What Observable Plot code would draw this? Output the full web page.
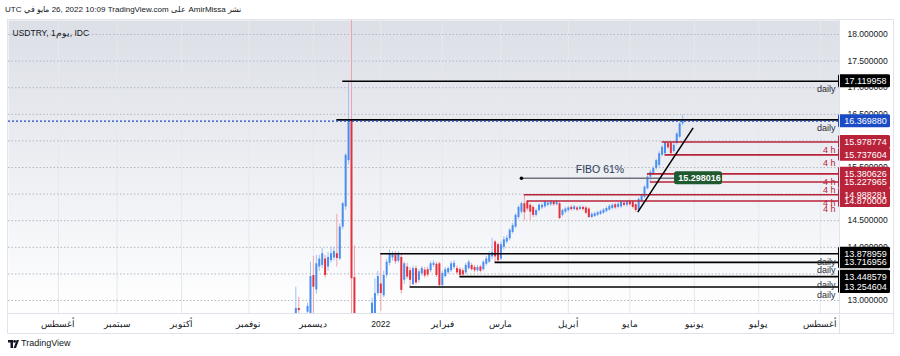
<!DOCTYPE html>
<html><head><meta charset="utf-8">
<script src="https://cdn.jsdelivr.net/npm/d3@7"></script>
<script src="https://cdn.jsdelivr.net/npm/@observablehq/plot@0.6"></script>
<style>
html,body{margin:0;padding:0;background:#fff;width:900px;height:356px;overflow:hidden;font-family:"Liberation Sans",Arial,sans-serif;}
#wrap{position:relative;width:900px;height:356px;}
#hdr{position:absolute;left:5px;top:4px;font-size:8px;line-height:12px;color:#131722;white-space:nowrap;}
#hdr span{display:inline-block;margin-right:2.4px;unicode-bidi:isolate;}
#chart{position:absolute;left:0;top:19px;}
.ln{position:absolute;background:#e0e3eb;pointer-events:none;}
#outer{position:absolute;left:7px;top:19px;width:887px;height:315px;border:1px solid #e0e3eb;box-sizing:border-box;pointer-events:none;}
#ftr{position:absolute;left:8px;top:338px;font-size:9px;line-height:11px;color:#131722;display:flex;align-items:center;gap:2px;}
</style></head><body>
<div id="wrap">
  <div id="hdr"></div>
  <div id="chart"></div>
  <div id="outer"></div>
  <div class="ln" style="left:839px;top:19px;width:1px;height:315px"></div>
  <div class="ln" style="left:7px;top:313px;width:887px;height:1px"></div>
  <div id="ftr"><svg width="11" height="8" viewBox="0 0 11 8"><path d="M0 0h5v8H2.5V2.6H0z" fill="#131722"/><circle cx="6.6" cy="1.4" r="1.4" fill="#131722"/><path d="M8.6 0H11L8 8H5.6z" fill="#131722"/></svg><span>TradingView</span></div>
</div>
<script>
// ---- header text tokens (visual order) ----
const headerTokens = ["UTC","في","مايو","26,","2022","10:09","TradingView.com","على","AmirMissa","نشر"];
const chartTitle = "USDTRY, 1يوم, IDC";

// ---- x axis (trading-day index, 0 = 20 Dec 2021) ----
const monthTickIdx = [-100, -80, -58, -35, -13, 10, 31, 51, 74, 95, 117, 139, 160];
const monthLabels = ["أغسطس","سبتمبر","أكتوبر","نوفمبر","ديسمبر","2022","فبراير","مارس","أبريل","مايو","يونيو","يوليو","أغسطس"];

// ---- y axis: grid levels and the tick labels left visible by the price-scale boxes ----
const yTicks = [13, 13.5, 14, 14.5, 15, 15.5, 16, 16.5, 17, 17.5, 18];
const yLabelTicks = [13, 14, 14.5, 15.5, 16.5, 17, 17.5, 18];

// ---- daily candles ----
const barIndex = [-19,-18,-15,-14,-13,-12,-11,-10,-9,-8,-7,-6,-5,-4,-3,-2,-1,0,1,7,8,9,10,11,12,13,14,15,16,17,18,19,20,21,22,23,24,25,26,27,28,29,30,31,32,33,34,35,36,37,38,39,40,41,42,43,44,45,46,47,48,49,50,51,52,53,54,55,56,57,58,59,60,61,62,63,64,65,66,67,68,69,70,71,72,73,74,75,76,77,78,79,80,81,82,83,84,85,86,87,88,89,90,91,92,93,94,95,96,97,98,99,100,101,102,103,104,105,106,107,108,109,110,111,112,113];
const openVals = [12.30,12.85,12.78,12.60,13.47,13.20,13.63,13.66,13.78,13.63,13.75,13.80,13.88,13.78,14.38,14.76,15.63,16.40,13.43,12.60,12.70,13.13,13.31,13.09,13.47,13.70,13.80,13.85,13.74,13.81,13.38,13.63,13.56,13.30,13.60,13.38,13.50,13.57,13.58,13.56,13.66,13.68,13.69,13.28,13.45,13.52,13.56,13.62,13.60,13.58,13.56,13.52,13.60,13.66,13.62,13.56,13.63,13.58,13.68,13.72,13.82,14.10,14.05,13.78,14.00,14.10,14.16,14.28,14.38,14.56,14.66,14.82,14.86,14.79,14.75,14.60,14.69,14.74,14.76,14.79,14.80,14.85,14.80,14.82,14.60,14.66,14.69,14.75,14.71,14.74,14.71,14.75,14.74,14.72,14.56,14.58,14.60,14.62,14.64,14.67,14.70,14.73,14.80,14.75,14.76,14.83,14.79,14.86,14.85,14.80,14.70,14.86,14.94,15.10,15.32,15.39,15.48,15.54,15.73,15.76,15.95,15.96,15.80,15.95,16.07,16.32];
const highVals = [13.25,13.06,12.95,13.72,13.83,13.85,13.85,13.98,13.85,13.90,14.00,14.00,14.62,14.44,14.85,15.76,17.12,18.36,14.03,13.05,13.41,13.55,13.88,13.55,13.78,13.95,13.92,13.92,13.92,13.87,13.72,13.70,13.62,13.65,13.65,13.58,13.64,13.62,13.63,13.73,13.75,13.72,13.72,13.55,13.62,13.63,13.73,13.75,13.65,13.62,13.60,13.70,13.76,13.70,13.66,13.66,13.66,13.75,13.83,13.92,14.17,14.13,14.08,14.10,14.20,14.22,14.35,14.45,14.63,14.78,14.85,14.988,14.87,14.82,14.78,14.72,14.82,14.82,14.87,14.86,14.88,14.87,14.88,14.85,14.72,14.75,14.77,14.78,14.79,14.77,14.78,14.78,14.77,14.75,14.65,14.66,14.68,14.70,14.73,14.76,14.80,14.82,14.83,14.84,14.88,14.87,14.88,14.89,14.88,14.83,14.93,15.00,15.16,15.38,15.45,15.52,15.66,15.80,15.92,15.98,15.97,15.98,15.96,16.16,16.35,16.48];
const lowVals = [12.20,12.45,12.60,12.55,12.70,13.12,13.55,13.60,13.42,13.55,13.70,13.75,13.63,13.75,14.33,14.70,15.55,12.50,11.60,12.50,12.60,13.08,12.80,13.05,13.42,13.65,13.74,13.68,13.70,13.12,13.30,13.40,13.255,13.28,13.29,13.33,13.46,13.42,13.44,13.52,13.62,13.43,13.26,13.26,13.42,13.49,13.53,13.58,13.49,13.449,13.46,13.49,13.57,13.55,13.52,13.53,13.52,13.55,13.65,13.70,13.77,13.717,13.72,13.75,13.95,14.06,14.12,14.25,14.35,14.52,14.62,14.50,14.68,14.50,14.56,14.57,14.66,14.71,14.73,14.76,14.77,14.77,14.78,14.52,14.57,14.63,14.66,14.68,14.69,14.67,14.69,14.68,14.61,14.54,14.54,14.56,14.58,14.60,14.62,14.65,14.68,14.70,14.71,14.72,14.73,14.76,14.76,14.77,14.72,14.66,14.67,14.83,14.92,15.08,15.228,15.35,15.45,15.50,15.70,15.73,15.84,15.738,15.77,15.92,16.04,16.28];
const closeVals = [12.85,12.81,12.89,13.45,13.25,13.69,13.78,13.88,13.47,13.81,13.88,13.92,13.79,14.38,14.82,15.73,16.40,13.41,12.40,12.95,13.13,13.45,13.13,13.47,13.72,13.88,13.86,13.73,13.86,13.19,13.69,13.44,13.38,13.60,13.33,13.54,13.60,13.46,13.48,13.69,13.70,13.47,13.28,13.51,13.58,13.60,13.69,13.70,13.52,13.47,13.48,13.66,13.72,13.58,13.56,13.62,13.55,13.72,13.78,13.88,13.90,13.82,13.75,14.05,14.14,14.17,14.32,14.41,14.60,14.75,14.82,14.65,14.72,14.66,14.60,14.69,14.79,14.79,14.85,14.83,14.85,14.80,14.85,14.54,14.69,14.72,14.74,14.71,14.76,14.70,14.75,14.71,14.64,14.56,14.62,14.63,14.65,14.67,14.70,14.73,14.77,14.79,14.74,14.81,14.85,14.79,14.85,14.80,14.75,14.69,14.90,14.97,15.13,15.32,15.41,15.48,15.63,15.76,15.88,15.97,15.87,15.76,15.92,16.13,16.32,16.36988];

// ---- drawn horizontal levels ----
const levelValues = [17.119958, 16.395, 13.878959, 13.716956, 13.448579, 13.254604, 15.978774, 15.737604, 15.380626, 15.227965, 14.988281, 14.87];
const levelStart  = [-3, -5, 10, 49, 37, 20, 106, 107, 101, 102, 59, 60];
const levelFrame  = ["daily","daily","daily","daily","daily","daily","4 h","4 h","4 h","4 h","4 h","4 h"];

// ---- price-scale label boxes (drawing order) ----
const boxValues = [17.119958, 13.716956, 13.878959, 13.448579, 13.254604, 14.87, 14.988281, 15.380626, 15.227965, 15.737604, 15.978774, 16.36988];
const boxKinds  = ["daily","daily","daily","daily","daily","4 h","4 h","4 h","4 h","4 h","4 h","last"];

const lastPrice = 16.36988;

// ---- fibo level & trend line ----
const fiboValue = 15.298016;
const fiboStart = 58, fiboEnd = 110.6;
const fiboText = "FIBO 61%";
const trendX = [97.7, 116.6];
const trendY = [14.66, 16.246];

// ===== build =====
const hdr = document.getElementById("hdr");
headerTokens.forEach(t => { const s = document.createElement("span"); s.textContent = t; hdr.appendChild(s); });

const candles = barIndex.map((i, k) => ({i, o: openVals[k], h: highVals[k], l: lowVals[k], c: closeVals[k]}));
const levels = levelValues.map((v, k) => ({v, start: levelStart[k], tf: levelFrame[k]}));
const boxes = boxValues.map((v, k) => ({v, kind: boxKinds[k]}));
const fmt = d3.format(".6f");

const xMin = -117.06, xMax = 166.55;
const yMin = 12.756, yMax = 18.263;
const UP = "#4a8ef0", DOWN = "#e6303d", UPW = "#9dc0f6", DOWNW = "#f2a1a8";
const RED = "#b8233a";
const boxColor = k => k === "daily" ? "#000000" : k === "4 h" ? RED : "#1a4bc4";

const plot = Plot.plot({
  width: 900, height: 316,
  marginTop: 1, marginBottom: 22, marginLeft: 8, marginRight: 61,
  x: {domain: [xMin, xMax]},
  y: {domain: [yMin, yMax]},
  style: {fontFamily: "'Liberation Sans', Arial, sans-serif", background: "transparent", color: "#131722"},
  marks: [
    Plot.frame({fill: "url(#bgGrad)", stroke: null}),
    Plot.ruleX(monthTickIdx, {stroke: "#e6e8ed", strokeWidth: 1}),
    Plot.ruleY(yTicks, {stroke: "#b3b7c1", strokeDasharray: "1.5,2", strokeWidth: 1}),
    Plot.text([chartTitle], {frameAnchor: "top-left", dx: 4, dy: 9, fontSize: 8.5, fill: "#131722", textAnchor: "start"}),
    // candles
    Plot.ruleX(candles, {x: "i", y1: "l", y2: "h", stroke: d => d.c >= d.o ? UPW : DOWNW, strokeWidth: 1, clip: true}),
    Plot.ruleX(candles, {x: "i", y1: "o", y2: "c", stroke: d => d.c >= d.o ? UP : DOWN, strokeWidth: 2, clip: true}),
    // levels
    Plot.ruleY(levels, {y: "v", x1: "start", x2: () => xMax, stroke: d => d.tf === "daily" ? "#000" : RED, strokeWidth: 1.6}),
    Plot.text(levels, {x: () => xMax, y: "v", text: "tf", textAnchor: "end", dx: -4, dy: 8, fontSize: 9, fill: d => d.tf === "daily" ? "#2a2e39" : RED}),
    Plot.ruleY([lastPrice], {stroke: "#1a4bc4", strokeDasharray: "2,2", strokeWidth: 1.3}),
    // fibo
    Plot.ruleY([fiboValue], {x1: () => fiboStart, x2: () => fiboEnd, stroke: "#6f727c", strokeWidth: 1.5}),
    Plot.dot([fiboValue], {x: () => fiboStart, y: d => d, r: 1.8, fill: "#000", stroke: null}),
    Plot.text([fiboText], {x: () => (fiboStart + fiboEnd) / 2 + 0.5, y: () => fiboValue, dy: -8.5, fontSize: 10.5, fill: "#2b3a55"}),
    Plot.rect([fiboValue], {x1: () => fiboEnd, x2: () => fiboEnd, y1: d => d, y2: d => d, insetLeft: -1, insetRight: -47, insetTop: -6.5, insetBottom: -6.5, fill: "#1e5a2e", rx: 2.5}),
    Plot.text([fiboValue], {x: () => fiboEnd, y: d => d, text: d => fmt(d), dx: 24, fontSize: 9, fill: "#fff", fontWeight: "bold"}),
    // trend line
    Plot.link([0], {x1: () => trendX[0], y1: () => trendY[0], x2: () => trendX[1], y2: () => trendY[1], stroke: "#000", strokeWidth: 1.5}),
    // axes
    Plot.axisX(monthTickIdx, {anchor: "bottom", tickSize: 0, tickPadding: 7, fontSize: 8.5, fill: "#131722", label: null,
      tickFormat: d => monthLabels[monthTickIdx.indexOf(d)]}),
    Plot.axisY(yLabelTicks, {anchor: "right", tickSize: 0, tickPadding: 8, fontSize: 8.5, fill: "#131722", label: null, tickFormat: fmt}),
    // price-scale boxes
    Plot.rect(boxes, {x1: () => xMax, x2: () => xMax, y1: "v", y2: "v", insetLeft: -1, insetRight: -51, insetTop: -6.5, insetBottom: -6.5, fill: d => boxColor(d.kind), rx: 1.5}),
    Plot.text(boxes, {x: () => xMax, y: "v", text: d => fmt(d.v), dx: 26, fontSize: 9, fill: "#fff"})
  ]
});

d3.select(plot).insert("defs", ":first-child").html(
  '<linearGradient id="bgGrad" x1="0" y1="0" x2="0" y2="1">' +
  '<stop offset="0" stop-color="#dcdfe6"/><stop offset="0.55" stop-color="#eef0f4"/><stop offset="1" stop-color="#ffffff"/></linearGradient>');
document.getElementById("chart").appendChild(plot);
</script>
</body></html>
